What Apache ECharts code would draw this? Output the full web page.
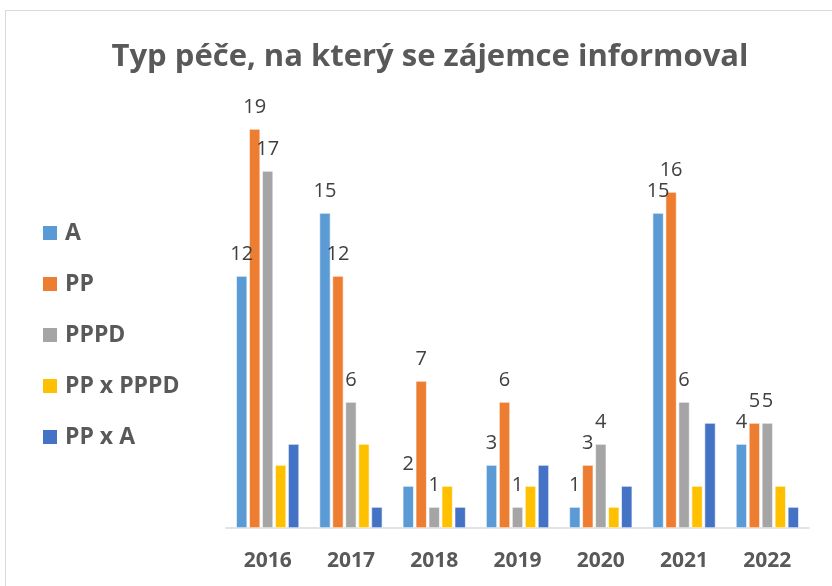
<!DOCTYPE html>
<html>
<head>
<meta charset="UTF-8">
<title>Typ péče</title>
<script src="https://cdn.jsdelivr.net/npm/echarts@6/dist/echarts.min.js"></script>
<style>
  body { margin: 0; background: #fff; }
  #main { width: 832px; height: 586px; }
</style>
</head>
<body>
<div id="main"></div>
<script type="text/javascript">
// data
var years = ['2016', '2017', '2018', '2019', '2020', '2021', '2022'];
var seriesNames = ['A', 'PP', 'PPPD', 'PP x PPPD', 'PP x A'];
var valA      = [12, 15, 2, 3, 1, 15, 4];
var valPP     = [19, 12, 7, 6, 3, 16, 5];
var valPPPD   = [17, 6, 1, 1, 4, 6, 5];
var valPPxPPPD = [3, 4, 2, 2, 1, 2, 2];
var valPPxA   = [4, 1, 1, 3, 2, 5, 1];
var colors = ['#5B9BD5', '#ED7D31', '#A5A5A5', '#FFC000', '#4472C4'];

var allValues = [valA, valPP, valPPPD, valPPxPPPD, valPPxA];
// only the first three series carry labels in the original
var withLabel = [true, true, true, false, false];

var myChart = echarts.init(document.getElementById('main'));

var series = allValues.map(function (vals, i) {
    return {
        name: seriesNames[i],
        type: 'bar',
        data: vals,
        barWidth: 11,
        barGap: '18%',
        itemStyle: { color: colors[i], borderColor: '#fff', borderWidth: 0.6 },
        label: {
            show: withLabel[i],
            position: 'top',
            distance: 12,
            color: '#404040',
            fontSize: 20,
            fontFamily: 'Open Sans'
        }
    };
});

var option = {
    animation: false,
    color: colors,
    title: {
        text: 'Typ péče, na který se zájemce informoval',
        left: 425,
        top: 37,
        textAlign: 'center',
        textStyle: {
            color: '#595959',
            fontSize: 31,
            fontWeight: 'bold',
            fontFamily: 'Open Sans'
        }
    },
    legend: {
        orient: 'vertical',
        left: 36,
        top: 212,
        itemWidth: 16,
        itemHeight: 16,
        itemGap: 19,
        icon: 'rect',
        textStyle: {
            color: '#595959',
            fontSize: 23,
            fontWeight: 'bold',
            fontFamily: 'Open Sans',
            lineHeight: 32,
            padding: [0, 0, 0, 2]
        },
        data: seriesNames
    },
    grid: {
        left: 226,
        width: 583,
        top: 108,
        height: 420
    },
    xAxis: {
        type: 'category',
        data: years,
        axisLine: { lineStyle: { color: '#D9D9D9', width: 1.5 } },
        axisTick: { show: false },
        axisLabel: {
            color: '#595959',
            fontSize: 21,
            fontWeight: 'bold',
            fontFamily: 'Open Sans',
            margin: 23
        }
    },
    yAxis: {
        type: 'value',
        min: 0,
        max: 20,
        show: false,
        splitLine: { show: false }
    },
    graphic: [{
        type: 'rect',
        shape: { x: 5.5, y: 10.5, width: 900, height: 700 },
        style: { fill: 'none', stroke: '#D9D9D9', lineWidth: 1 },
        silent: true,
        z: -1
    }],
    series: series
};

myChart.setOption(option);
</script>
</body>
</html>
